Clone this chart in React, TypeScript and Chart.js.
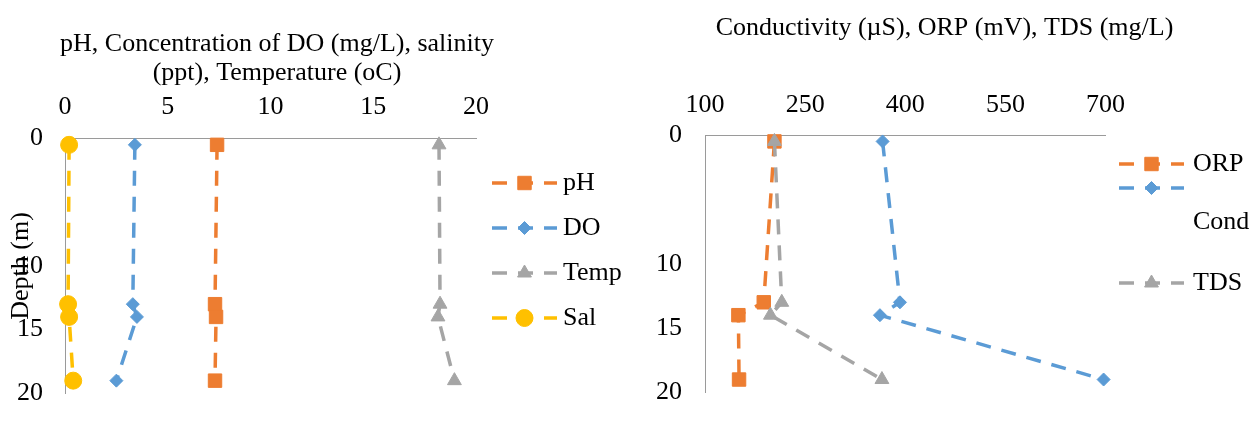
import React, { useEffect, useRef } from 'react';
import { Chart, registerables } from 'chart.js';
import { drawPoint } from 'chart.js/helpers';

Chart.register(...registerables);

// ---------- data ----------
const depths = [0.5, 13, 14, 19];

const phValues = [7.4, 7.3, 7.35, 7.3];
const doValues = [3.4, 3.3, 3.5, 2.5];
const tempValues = [18.2, 18.25, 18.15, 18.95];
const salValues = [0.2, 0.15, 0.2, 0.4];

const orpValues = [204, 188, 150, 151];
const condValues = [366, 392, 362, 697];
const tdsValues = [204, 215, 198, 365];

const leftXTicks = [0, 5, 10, 15, 20];
const rightXTicks = [100, 250, 400, 550, 700];
const depthTicks = [0, 10, 15, 20];

const leftTitle = ['pH, Concentration of DO (mg/L), salinity', '(ppt), Temperature (oC)'];
const rightTitle = 'Conductivity (µS), ORP (mV), TDS (mg/L)';
const depthTitle = 'Depth (m)';

// ---------- style ----------
const FAMILY = '"Times New Roman", "Liberation Serif", serif';
const FS = 26;
const ORANGE = '#ED7D31';
const BLUE = '#5B9BD5';
const GRAY = '#A5A5A5';
const YELLOW = '#FFC000';
const AXIS = '#9A9A9A';
const DASH = [15, 11];
const LW = 3.5;

const sideLegend = {
  id: 'sideLegend',
  afterDraw(chart: any, _args: any, opts: any) {
    const ctx = chart.ctx;
    const items = opts.items || [];
    chart.data.datasets.forEach((ds: any, i: number) => {
      const it = items[i];
      if (!it) return;
      ctx.save();
      ctx.strokeStyle = ds.borderColor;
      ctx.lineWidth = ds.borderWidth;
      ctx.setLineDash(ds.borderDash || []);
      ctx.beginPath();
      ctx.moveTo(it.x0, it.y);
      ctx.lineTo(it.x1, it.y);
      ctx.stroke();
      ctx.setLineDash([]);
      ctx.fillStyle = ds.pointBackgroundColor;
      ctx.strokeStyle = ds.pointBorderColor;
      ctx.lineWidth = ds.pointBorderWidth;
      drawPoint(ctx, { pointStyle: ds.pointStyle, radius: ds.pointRadius, borderWidth: ds.pointBorderWidth, rotation: 0 } as any, (it.x0 + it.x1) / 2, it.y);
      ctx.fillStyle = '#000';
      ctx.font = `${FS}px ${FAMILY}`;
      ctx.textAlign = 'left';
      ctx.textBaseline = 'middle';
      ctx.fillText(ds.label, it.tx, it.ty);
      ctx.restore();
    });
  },
};

function series(label: string, xs: number[], color: string, style: string, radius: number, order: number) {
  return {
    label,
    data: depths.map((d, i) => ({ x: xs[i], y: d })),
    showLine: true,
    borderColor: color,
    backgroundColor: color,
    borderWidth: LW,
    borderDash: DASH,
    pointStyle: style,
    pointRadius: radius,
    pointHoverRadius: radius,
    pointBorderWidth: 1,
    pointBackgroundColor: color,
    pointBorderColor: color,
    clip: false,
    order,
  };
}

function tickFont() {
  return { family: FAMILY, size: FS, lineHeight: 1.2 };
}

function makeConfig(opts: {
  datasets: any[];
  xTicks: number[];
  xMin: number;
  xMax: number;
  title: string | string[];
  titlePadTop: number;
  titleLineHeight: number;
  xHeight: number;
  xTickPad: number;
  yWidth: number;
  yTickPad: number;
  yTitle: string | null;
  padRight: number;
  layoutRight: number;
  bottom: number;
  legendItems: any[];
}) {
  return {
    type: 'scatter',
    data: { datasets: opts.datasets },
    plugins: [sideLegend],
    options: {
      animation: false,
      responsive: false,
      events: [],
      layout: { padding: { top: 0, left: 0, right: opts.layoutRight, bottom: opts.bottom } },
      plugins: {
        legend: { display: false },
        tooltip: { enabled: false },
        title: {
          display: true,
          text: opts.title,
          color: '#000',
          font: { family: FAMILY, size: FS, weight: 'normal', lineHeight: opts.titleLineHeight },
          padding: { top: opts.titlePadTop, bottom: 0 },
        },
        sideLegend: { items: opts.legendItems },
      },
      scales: {
        x: {
          type: 'linear',
          position: 'top',
          min: opts.xMin,
          max: opts.xMax,
          afterBuildTicks: (s: any) => {
            s.ticks = opts.xTicks.map((v) => ({ value: v }));
          },
          afterFit: (s: any) => {
            s.height = opts.xHeight;
          },
          grid: { display: false, drawTicks: false, tickLength: 0 },
          border: { display: true, color: AXIS, width: 1 },
          ticks: { color: '#000', font: tickFont(), padding: opts.xTickPad, autoSkip: false, maxRotation: 0 },
        },
        y: {
          type: 'linear',
          position: 'left',
          reverse: true,
          min: 0,
          max: 20,
          afterBuildTicks: (s: any) => {
            s.ticks = depthTicks.map((v) => ({ value: v }));
          },
          afterFit: (s: any) => {
            s.width = opts.yWidth;
          },
          grid: { display: false, drawTicks: false, tickLength: 0 },
          border: { display: true, color: AXIS, width: 1 },
          ticks: { color: '#000', font: tickFont(), padding: opts.yTickPad, autoSkip: false },
          title: {
            display: !!opts.yTitle,
            text: opts.yTitle || '',
            color: '#000',
            font: { family: FAMILY, size: FS, lineHeight: 1.2 },
            padding: { top: 6, bottom: 0 },
          },
        },
        pad: {
          type: 'linear',
          position: 'right',
          display: true,
          grid: { display: false, drawTicks: false },
          border: { display: false },
          ticks: { display: false },
          afterFit: (s: any) => {
            s.width = opts.padRight;
          },
        },
      },
    },
  };
}

export default function App() {
  const leftRef = useRef<HTMLCanvasElement | null>(null);
  const rightRef = useRef<HTMLCanvasElement | null>(null);

  useEffect(() => {
    const left = new Chart(
      leftRef.current as HTMLCanvasElement,
      makeConfig({
        datasets: [
          series('pH', phValues, ORANGE, 'rect', 9.5, 3),
          series('DO', doValues, BLUE, 'rectRot', 6.5, 2),
          series('Temp', tempValues, GRAY, 'triangle', 8, 1),
          series('Sal', salValues, YELLOW, 'circle', 8.5, 0),
        ],
        xTicks: leftXTicks,
        xMin: 0,
        xMax: 20,
        title: leftTitle,
        titlePadTop: 29.3,
        titleLineHeight: 1.13,
        xHeight: 50.4,
        xTickPad: 15.9,
        yWidth: 65,
        yTickPad: 22,
        yTitle: depthTitle,
        padRight: 78,
        layoutRight: 86,
        bottom: 10,
        legendItems: [
          { x0: 492, x1: 557, y: 183, tx: 563, ty: 183 },
          { x0: 492, x1: 557, y: 228, tx: 563, ty: 228 },
          { x0: 492, x1: 557, y: 273, tx: 563, ty: 273 },
          { x0: 492, x1: 557, y: 318, tx: 563, ty: 318 },
        ],
      }) as any
    );
    const right = new Chart(
      rightRef.current as HTMLCanvasElement,
      makeConfig({
        datasets: [
          series('ORP', orpValues, ORANGE, 'rect', 9.5, 2),
          series('Cond', condValues, BLUE, 'rectRot', 6.5, 1),
          series('TDS', tdsValues, GRAY, 'triangle', 8, 0),
        ],
        xTicks: rightXTicks,
        xMin: 100,
        xMax: 700,
        title: rightTitle,
        titlePadTop: 12.4,
        titleLineHeight: 1.2,
        xHeight: 91.4,
        xTickPad: 14.4,
        yWidth: 65,
        yTickPad: 23,
        yTitle: null,
        padRight: 143.4,
        layoutRight: 0,
        bottom: 13,
        legendItems: [
          { x0: 479, x1: 544, y: 164, tx: 553, ty: 164 },
          { x0: 479, x1: 544, y: 188, tx: 553, ty: 222 },
          { x0: 479, x1: 544, y: 283, tx: 553, ty: 283 },
        ],
      }) as any
    );
    return () => {
      left.destroy();
      right.destroy();
    };
  }, []);

  return (
    <div style={{ position: 'absolute', left: 0, top: 0, width: 1249, height: 431, background: '#fff' }}>
      <canvas ref={leftRef} width={640} height={431} style={{ position: 'absolute', left: 0, top: 0 }} />
      <canvas ref={rightRef} width={609} height={431} style={{ position: 'absolute', left: 640, top: 0 }} />
    </div>
  );
}
